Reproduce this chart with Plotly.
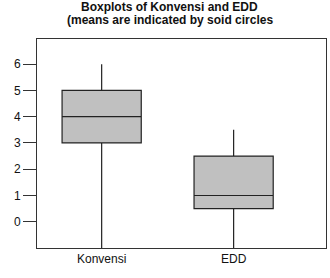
import plotly.graph_objects as go

categories = ["Konvensi", "EDD"]
positions = [0, 1]
lower = [-1.0, -1.0]
q1 = [3.0, 0.5]
median = [4.0, 1.0]
q3 = [5.0, 2.5]
upper = [6.0, 3.5]
y_ticks = [0, 1, 2, 3, 4, 5, 6]
title_lines = ["Boxplots of Konvensi and EDD", "(means are indicated by soid circles"]

fig = go.Figure()
fig.add_trace(go.Box(
    x=positions, q1=q1, median=median, q3=q3, lowerfence=lower, upperfence=upper,
    fillcolor="#c0c0c0", line=dict(color="#222222", width=1.2),
    width=0.6, whiskerwidth=0, boxpoints=False, showlegend=False,
))

for i, t in enumerate(title_lines):
    fig.add_annotation(
        text="<b>" + t + "</b>", xref="paper", yref="paper",
        x=0.46, y=1 + (39 - 7 - 13 * i) / 209.0, xanchor="center", yanchor="middle",
        showarrow=False, font=dict(size=12, family="Liberation Sans, Arial", color="#111111"),
    )

fig.update_layout(
    width=330, height=278,
    margin=dict(l=37, r=4, t=39, b=30),
    paper_bgcolor="white", plot_bgcolor="white",
    font=dict(family="Liberation Sans, Arial", color="#111111", size=12),
    xaxis=dict(
        range=[-0.49, 1.70], tickvals=positions, ticktext=categories,
        showgrid=False, zeroline=False, showline=True, mirror=True,
        linecolor="#333333", linewidth=1, ticks="", tickfont=dict(size=12),
    ),
    yaxis=dict(
        range=[-1, 6.96], tickvals=y_ticks, showgrid=False, zeroline=False,
        showline=True, mirror=True, linecolor="#333333", linewidth=1,
        ticks="outside", ticklen=13, tickcolor="#333333", tickfont=dict(size=12),
    ),
)

fig.write_html("out.html")
